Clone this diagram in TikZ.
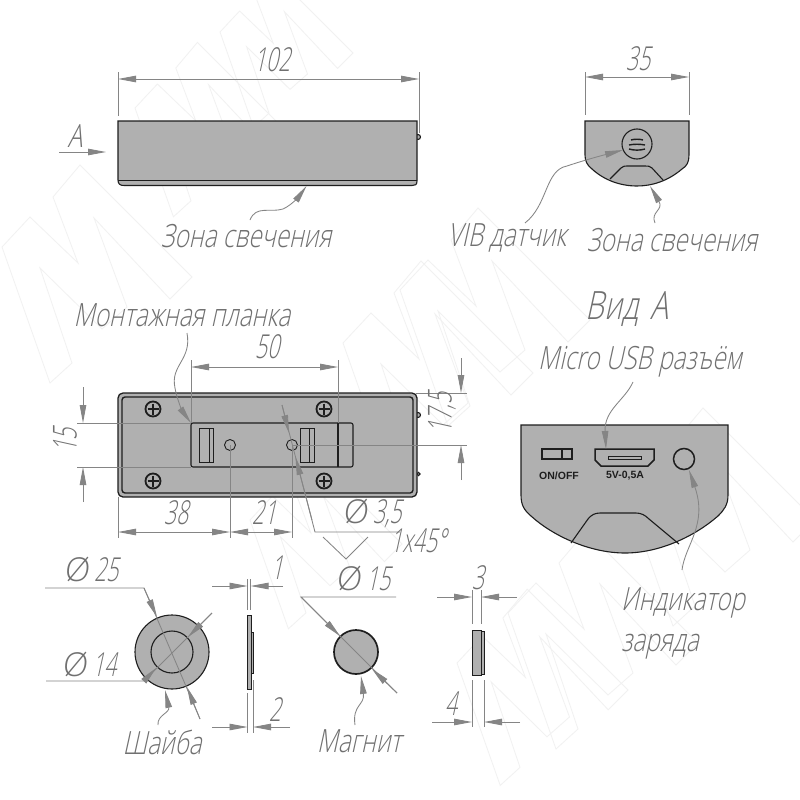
\documentclass[tikz,border=0pt]{standalone}
\usepackage{fontspec}
\usetikzlibrary{arrows.meta}
\setmainfont{Liberation Sans}
\newfontfamily\dr[FakeSlant=0.22,FakeStretch=0.76]{Open Sans Light}
\newfontfamily\drd[FakeSlant=0.22,FakeStretch=0.64]{Open Sans Light}
\newfontfamily\drw[FakeSlant=0.12]{Open Sans Light}
\newcommand{\dia}{{\drw Ø}\hspace{5pt}}
\definecolor{dimc}{HTML}{858585}
\definecolor{txtc}{HTML}{707070}
\definecolor{fillc}{HTML}{B0B0B0}
\definecolor{inkc}{HTML}{1E1E1E}
\definecolor{wmc}{HTML}{F1F1F1}
\tikzset{
 x=1pt,y=-1pt,
 dimline/.style={draw=dimc,line width=.85pt},
 tipend/.style={dimline,-{Triangle[length=18pt,width=6.5pt,fill=dimc]}},
 tipboth/.style={dimline,{Triangle[length=18pt,width=6.5pt,fill=dimc]}-{Triangle[length=18pt,width=6.5pt,fill=dimc]}},
 lbl/.style={text=txtc,font=\dr\fontsize{32}{32}\selectfont,inner sep=0pt},
 num/.style={text=txtc,font=\drd\fontsize{33}{33}\selectfont,inner sep=0pt},
 body/.style={draw=inkc,fill=fillc,line width=1.1pt},
 outl/.style={draw=inkc,line width=1.1pt},
 wmark/.style={draw=wmc,line width=.8pt},
}
\newcommand{\wm}[3]{\draw[wmark,shift={(#1,#2)},scale=#3] (0,0) -- (28,-30) -- (76,16) -- (51,-50) -- (78,-82) -- (190,30) -- (168,52) -- (92,-29) -- (125,60) -- (100,82) -- (38,21) -- (70,116) -- (48,136) -- cycle;}
\begin{document}
\begin{tikzpicture}
\useasboundingbox (0,0) rectangle (800,800);
\fill[white] (0,0) rectangle (800,800);
\begin{scope}
\clip (0,0) rectangle (800,800);
\wm{2}{247}{1}
\wm{135}{108}{.8}
\wm{220}{32}{.7}
\wm{400}{290}{1}
\wm{343}{343}{1}
\wm{508}{613}{1}
\wm{625}{490}{1}
\wm{457}{663}{.9}
\wm{250}{520}{.8}
\end{scope}
% top view
\draw[body] (418,137) circle (2.5);
\draw[body] (118,121) -- (417,121) -- (417,181) .. controls (417,185) and (415,185.5) .. (412,185.5) -- (124,185.5) .. controls (120,185.5) and (118,184) .. (118,180) -- cycle;
\draw[outl] (118,180.5) -- (417,180.5);
\draw[tipboth] (118,79) -- (419,79);
\draw[dimline] (118,72) -- (118,116) (419,72) -- (419,133);
\node[num] (t102) at (272,60) {102};
\draw[tipend] (59,152) -- (106,152);
\node[lbl] (tA) at (75,136) {A};
\node[lbl] (tz1) at (246,236) {Зона свечения};
\draw[tipend] (250,220) .. controls (256,205) and (270,213) .. (283,209) .. controls (292,205) and (300,195) .. (306.5,186);
% right view
\draw[body] (585,121) -- (689,121) -- (689,155) .. controls (689,162) and (687,166) .. (682,169) .. controls (668,181) and (652,186) .. (637,186) .. controls (620,186) and (604,180) .. (592,169) .. controls (587,165) and (585,161) .. (585,155) -- cycle;
\draw[outl] (610,179) -- (621,168) .. controls (623,166) and (625,166) .. (627,166) -- (645,166) .. controls (648,166) and (650,166) .. (652,168) -- (663,180);
\draw[outl] (637,144) circle (15);
\draw[inkc,line width=1.4pt] (631,140) .. controls (634,139) and (640,139) .. (643,140)
 (629,145) .. controls (634,144) and (640,144) .. (645,145)
 (629,149) .. controls (634,150.5) and (640,150.5) .. (645,149);
\draw[tipboth] (585,77) -- (689,77);
\draw[dimline] (585,72) -- (585,115) (689,72) -- (689,115);
\node[num] (t35) at (638,59) {35};
\draw[tipend] (525,223) .. controls (548,205) and (545,170) .. (567,166) .. controls (585,160) and (600,156) .. (623,150);
\draw[tipend] (655,223) .. controls (650,212) and (664,210) .. (650,186);
\node[lbl] (tvib) at (507,238) {VIB датчик};
\node[lbl] (tz2) at (672,240) {Зона свечения};
% middle view
\node[lbl] (tmon) at (182,315) {Монтажная планка};
\draw[body] (418,415) circle (2.5) (418.5,474) circle (1.6);
\draw[body,line width=1.3pt,rounded corners=5pt] (118,393) rectangle (417,497);
\draw[outl,line width=1.4pt,rounded corners=3pt] (122,397) rectangle (413,493);
\draw[outl,rounded corners=2pt] (191,423) rectangle (353,467);
\draw[outl] (338,423) -- (338,467);
\draw[outl,line width=.9pt] (199,428) rectangle (213,462) (209,428) -- (209,462);
\draw[outl,line width=.9pt] (300,428) rectangle (314,462) (309,428) -- (309,462);
\draw[outl,line width=.9pt] (230,445) circle (5.5) (292,445) circle (5.5);
\foreach \n/\px/\py in {s1/153/409,s2/324/409,s3/153/481,s4/324/481}{
  \draw[inkc,line width=1.8pt,fill=fillc] (\px,\py) circle (7.5);
  \draw[inkc,line width=2.4pt] (\px-5.5,\py) -- (\px+5.5,\py) (\px,\py-5.5) -- (\px,\py+5.5);
}
\draw[tipboth] (191,367) -- (338,367);
\draw[dimline] (191,360) -- (191,423) (338,360) -- (338,423);
\node[num] (t50) at (267,347) {50};
\draw[dimline] (77,423) -- (191,423) (77,467) -- (191,467);
\draw[tipend] (83,387) -- (83,423);
\draw[tipend] (83,502) -- (83,467);
\node[num,rotate=90] (t15) at (65,440) {15};
\draw[dimline] (416,393) -- (467,393) (292,445) -- (467,445);
\draw[tipend] (461,358) -- (461,393);
\draw[tipend] (461,480) -- (461,445);
\node[num,rotate=90] (t175) at (442,413) {17,5};
\draw[tipboth] (118,532) -- (230,532);
\draw[tipboth] (230,532) -- (292,532);
\draw[dimline] (118,497) -- (118,538) (230,445) -- (230,538) (292,445) -- (292,538);
\node[num] (t38) at (176,513) {38};
\node[num] (t21) at (264,513) {21};
\draw[dimline] (282,405) -- (315,532) -- (400,532);
\draw[tipend] (282,405) -- (289,433);
\draw[tipend] (312,520) -- (295.5,457);
\node[num] (t35b) at (372,513) {\dia 3,5};
\draw[dimline] (323,537) -- (346,559) -- (368,537);
\node[num] (t145) at (418,541) {1x45°};
\draw[tipend] (187,333) .. controls (192,360) and (170,365) .. (175,388) .. controls (177,400) and (183,412) .. (191,423);
% view A
\node[lbl,font=\dr\fontsize{39}{39}\selectfont] (tvid) at (627,309) {Вид\hspace{12pt}А};
\node[lbl] (tusb) at (640,362) {Micro USB разъём};
\draw[body] (521,425) -- (728,425) -- (728,495) .. controls (728,505) and (724,510) .. (718,516) .. controls (695,536) and (660,553) .. (625,553) .. controls (590,553) and (553,536) .. (531,516) .. controls (524,510) and (521,505) .. (521,495) -- cycle;
\draw[outl] (571,543) -- (588,519) .. controls (591,515) and (595,513) .. (600,513) -- (636,513) .. controls (641,513) and (645,515) .. (649,519) -- (679,544);
\draw[outl] (542,449) rectangle (572,459) (562,449) -- (562,459);
\node[font=\bfseries\fontsize{10.5}{11}\selectfont,text=inkc,inner sep=0pt] (ton) at (559,476) {ON/OFF};
\draw[inkc,line width=1.5pt] (595,449) -- (654,449) -- (654,460) -- (648,466) -- (601,466) -- (595,460) -- cycle;
\draw[inkc,line width=.9pt] (608,456) rectangle (641,459);
\node[font=\bfseries\fontsize{10.5}{11}\selectfont,text=inkc,inner sep=0pt] (t5v) at (625,476) {5V-0,5A};
\draw[inkc,line width=1.5pt] (684,459) circle (10.5);
\draw[tipend] (633,382) .. controls (625,400) and (604,410) .. (606,449);
\draw[tipend] (682,570) .. controls (685,545) and (708,525) .. (689,470);
\node[lbl] (tind) at (683,603) {Индикатор};
\node[lbl] (tzar) at (660,647) {заряда};
% washer
\draw[body] (172,652) circle (37);
\draw[outl] (172,652) circle (21);
\draw[dimline] (45,588) -- (144,588) -- (200,719);
\draw[tipend] (144,588) -- (157,617);
\draw[tipend] (200,719) -- (187,687);
\draw[dimline] (46,681) -- (144,681) -- (212,613);
\draw[tipend] (212,613) -- (188,637);
\draw[tipend] (144,681) -- (156,668);
\node[num] (t25) at (91,569) {\dia 25};
\node[num] (t14) at (89,664) {\dia 14};
\draw[tipend] (158,725) .. controls (157,715) and (170,713) .. (165,690);
\node[lbl] (tsh) at (162,742) {Шайба};
\draw[inkc,fill=fillc,line width=.9pt] (247,615) rectangle (251,689);
\draw[inkc,fill=fillc,line width=.9pt] (251,632) rectangle (253,673);
\draw[dimline] (247.5,579) -- (247.5,610) (250.5,579) -- (250.5,610);
\draw[tipend] (212,586) -- (247.5,586);
\draw[tipend] (283,586) -- (250.5,586);
\node[num] (t1) at (277,568) {1};
\draw[dimline] (247.5,693) -- (247.5,733) (253,680) -- (253,733);
\draw[tipend] (212,727) -- (247.5,727);
\draw[tipend] (290,727) -- (253,727);
\node[num] (t2) at (275,710) {2};
% magnet
\draw[body,line width=1.7pt] (356,652) circle (22);
\draw[dimline] (396,597) -- (301,597) -- (397,693);
\draw[tipend] (301,597) -- (340,636);
\draw[tipend] (397,693) -- (372,669);
\node[num] (t15b) at (363,578) {\dia 15};
\draw[tipend] (355,725) .. controls (352,705) and (365,705) .. (361,676);
\node[lbl] (tmag) at (359,741) {Магнит};
\draw[inkc,fill=fillc,line width=.9pt] (481,631) rectangle (484,674);
\draw[inkc,fill=fillc,line width=.9pt] (472,630) rectangle (481,675);
\draw[dimline] (472,590) -- (472,624) (481,590) -- (481,624);
\draw[tipend] (437,597) -- (472,597);
\draw[tipend] (517,597) -- (481,597);
\node[num] (t3) at (478,578) {3};
\draw[dimline] (472,680) -- (472,727) (484,680) -- (484,727);
\draw[tipend] (432,722) -- (472,722);
\draw[tipend] (520,722) -- (484,722);
\node[num] (t4) at (451,704) {4};
\end{tikzpicture}
\end{document}
